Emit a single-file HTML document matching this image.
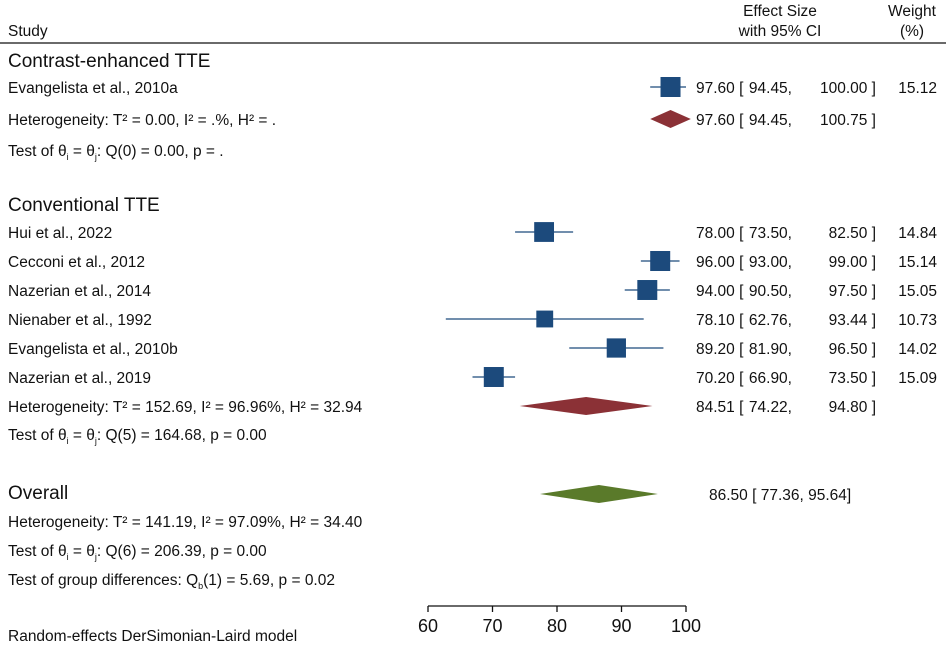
<!DOCTYPE html>
<html><head><meta charset="utf-8"><style>
html,body{margin:0;padding:0;background:#fff}
svg{display:block;font-family:"Liberation Sans",sans-serif;fill:#111}
</style></head><body>
<svg width="946" height="645" viewBox="0 0 946 645" id="chart">
<g id="static" font-size="15.5">
<text x="8" y="36">Study</text>
<text x="780" y="16" text-anchor="middle">Effect Size</text>
<text x="780" y="36" text-anchor="middle">with 95% CI</text>
<text x="912" y="16" text-anchor="middle">Weight</text>
<text x="912" y="36" text-anchor="middle">(%)</text>
<line x1="0" y1="43" x2="946" y2="43" stroke="#111" stroke-width="1.3"/>
<text x="8" y="67" font-size="19">Contrast-enhanced TTE</text>
<text x="8" y="125">Heterogeneity: T² = 0.00, I² = .%, H² = .</text>
<text x="8" y="156">Test of  θ<tspan font-size="9" dy="4">i</tspan><tspan dy="-4"> = θ</tspan><tspan font-size="9" dy="4">j</tspan><tspan dy="-4">: Q(0) = 0.00, p = .</tspan></text>
<text x="8" y="211" font-size="19">Conventional TTE</text>
<text x="8" y="412">Heterogeneity: T² = 152.69, I² = 96.96%, H² = 32.94</text>
<text x="8" y="440">Test of θ<tspan font-size="9" dy="4">i</tspan><tspan dy="-4"> = θ</tspan><tspan font-size="9" dy="4">j</tspan><tspan dy="-4">: Q(5) = 164.68, p = 0.00</tspan></text>
<text x="8" y="499" font-size="19">Overall</text>
<text x="8" y="527">Heterogeneity: T² = 141.19, I² = 97.09%, H² = 34.40</text>
<text x="8" y="556">Test of θ<tspan font-size="9" dy="4">i</tspan><tspan dy="-4"> = θ</tspan><tspan font-size="9" dy="4">j</tspan><tspan dy="-4">: Q(6) = 206.39, p = 0.00</tspan></text>
<text x="8" y="585">Test of group differences: Q<tspan font-size="9" dy="4">b</tspan><tspan dy="-4">(1) = 5.69, p = 0.02</tspan></text>
<text x="8" y="641">Random-effects DerSimonian-Laird model</text>
</g>
<g id="marks" font-size="15.5"></g>
<g id="axis"></g>
<script>
const studies = ["Evangelista et al., 2010a","Hui et al., 2022","Cecconi et al., 2012","Nazerian et al., 2014","Nienaber et al., 1992","Evangelista et al., 2010b","Nazerian et al., 2019"];
const estimates = [97.60,78.00,96.00,94.00,78.10,89.20,70.20];
const lowers = [94.45,73.50,93.00,90.50,62.76,81.90,66.90];
const uppers = [100.00,82.50,99.00,97.50,93.44,96.50,73.50];
const weights = [15.12,14.84,15.14,15.05,10.73,14.02,15.09];
const rowY = [87,232,261,290,319,348,377];
const pooledNames = ["contrast","conventional","overall"];
const pooledEst = [97.60,84.51,86.50];
const pooledLo = [94.45,74.22,77.36];
const pooledHi = [100.75,94.80,95.64];
const pooledY = [119,406,494];
const ticks = [60,70,80,90,100];
const xs = v => 428 + (v-60)*(686-428)/40;
const NS="http://www.w3.org/2000/svg";
const marks=document.getElementById('marks'), axis=document.getElementById('axis');
function mk(tag,attrs,parent){const e=document.createElementNS(NS,tag);for(const k in attrs)e.setAttribute(k,attrs[k]);parent.appendChild(e);return e;}
function txt(x,y,s,anchor,parent){const t=mk('text',{x:x,y:y,'text-anchor':anchor},parent);t.textContent=s;return t;}
studies.forEach((s,i)=>{
  const y=rowY[i];
  let t=txt(8,y+6,s,'start',marks);
  
  
  let l=mk('line',{x1:xs(lowers[i]),x2:xs(Math.min(uppers[i],100)),y1:y,y2:y,stroke:'#1c4a7c','stroke-width':1.3},marks);
  
  
  const sz=20*Math.sqrt(weights[i]/15.12);
  let r=mk('rect',{x:xs(estimates[i])-sz/2,y:y-sz/2,width:sz,height:sz,fill:'#1c4a7c'},marks);
  
  
  let a=txt(696,y+6,estimates[i].toFixed(2)+' [','start',marks);
  
  
  let b=txt(792,y+6,lowers[i].toFixed(2)+',','end',marks);
  
  
  let c=txt(876,y+6,uppers[i].toFixed(2)+' ]','end',marks);
  
  
  let w=txt(937,y+6,weights[i].toFixed(2),'end',marks);
  
  
});
const colors=['#8b3136','#8b3136','#5a7a2a'];
pooledNames.forEach((n,i)=>{
  const y=pooledY[i], h=9;
  let p=mk('polygon',{points:`${xs(pooledLo[i])},${y} ${xs(pooledEst[i])},${y-h} ${xs(pooledHi[i])},${y} ${xs(pooledEst[i])},${y+h}`,fill:colors[i]},marks);
  
  
  if(i<2){
    let a=txt(696,y+6,pooledEst[i].toFixed(2)+' [','start',marks);
    
    
    let b=txt(792,y+6,pooledLo[i].toFixed(2)+',','end',marks);
    
    
    let c=txt(876,y+6,pooledHi[i].toFixed(2)+' ]','end',marks);
    
    
  } else {
    let a=txt(709,y+6,pooledEst[i].toFixed(2)+' [ '+pooledLo[i].toFixed(2)+', '+pooledHi[i].toFixed(2)+']','start',marks);
    
    
  }
});
let ax=mk('line',{x1:xs(ticks[0]),x2:xs(ticks[ticks.length-1]),y1:606,y2:606,stroke:'#111','stroke-width':1.3},axis);


ticks.forEach(v=>{
  let tk=mk('line',{x1:xs(v),x2:xs(v),y1:606,y2:612,stroke:'#111','stroke-width':1.3},axis);
  
  
  let tl=txt(xs(v),632,String(v),'middle',axis);
  tl.setAttribute('font-size','18');
  
  
});
</script>
</svg>
</body></html>
